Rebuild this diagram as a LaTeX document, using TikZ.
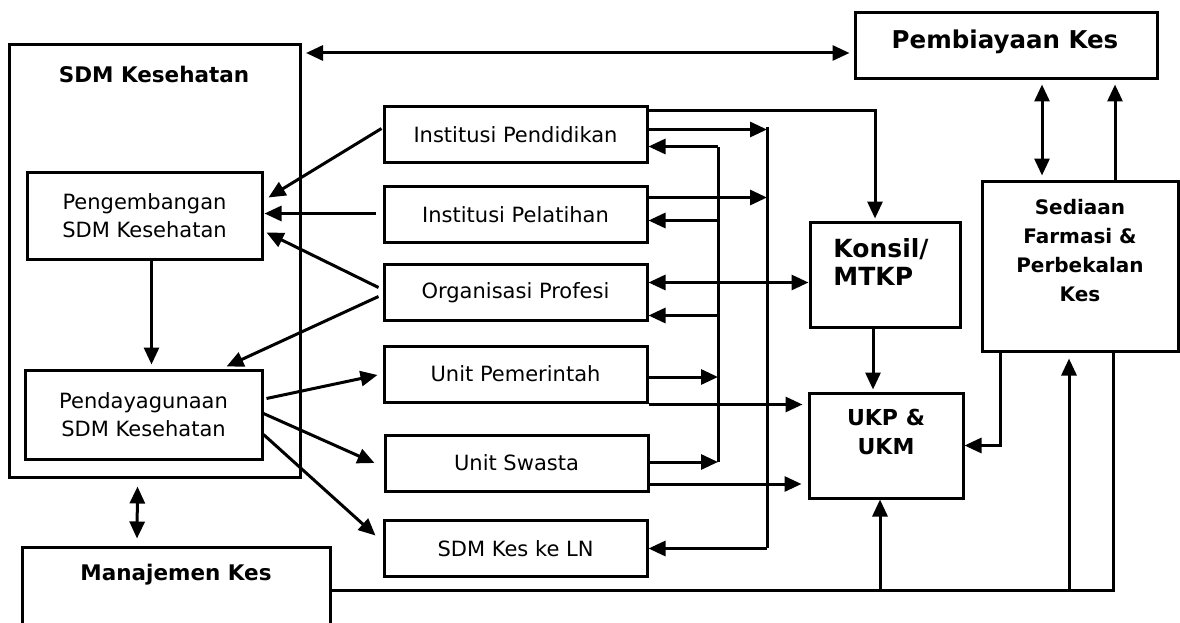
\documentclass[tikz,border=0pt]{standalone}
\usepackage{fontspec}
\setmainfont{DejaVu Sans}
\usetikzlibrary{positioning,arrows.meta,calc}

\begin{document}
\begin{tikzpicture}[x=1pt,y=-1pt,line width=3pt,
  box/.style={draw,line width=3pt,inner sep=0pt},
  unit/.style={box,minimum width=263pt,minimum height=56pt,font=\fontsize{21}{28}\selectfont},
  head/.style={font=\bfseries\fontsize{21}{29}\selectfont,align=center},
  arr/.style={-{Triangle[length=17pt,width=15pt]}},
  dbl/.style={{Triangle[length=17pt,width=15pt]}-{Triangle[length=17pt,width=15pt]}}]
        \clip (0,0) rectangle (1180,623);
        \fill[white] (0,0) rectangle (1180,623);
        \node[box, minimum width=291pt, minimum height=432pt] (sdm) at (154.5,261) {};
        \node[head, font=\bfseries\fontsize{21.5}{29}\selectfont] (sdmtitle) at (154,74) {SDM Kesehatan};
        \node[box, minimum width=235pt, minimum height=87pt, align=center,
              font=\fontsize{21}{28}\selectfont] (peng) at (144.5,215.5) {Pengembangan\\SDM Kesehatan};
        \node[box, minimum width=237pt, minimum height=89pt, align=center,
              font=\fontsize{21}{28}\selectfont] (pend) at (143.5,414.5) {Pendayagunaan\\SDM Kesehatan};
        \node[box, minimum width=308pt, minimum height=93pt] (mgmt) at (176,593.5) {};
        \node[head, font=\bfseries\fontsize{21.5}{29}\selectfont] (mgmttxt) at (176,575) {Manajemen Kes};
        \node[unit] (ipend) at (515.5,134.5) {Institusi Pendidikan};
        \node[unit] (ilat) at (515.5,214.5) {Institusi Pelatihan};
        \node[unit] (orgp) at (515.5,292.5) {Organisasi Profesi};
        \node[unit] (upem) at (515.5,374) {Unit Pemerintah};
        \node[unit] (uswa) at (516.5,463) {Unit Swasta};
        \node[unit] (sdmln) at (515.5,548.5) {SDM Kes ke LN};
        \node[box, minimum width=150pt, minimum height=105pt] (konsil) at (885,274.5) {};
        \node[head, align=left, font=\bfseries\fontsize{25}{28}\selectfont] (konsiltxt) at (881,262) {Konsil/\\MTKP};
        \node[box, minimum width=154pt, minimum height=105pt] (ukp) at (886,445.5) {};
        \node[head, font=\bfseries\fontsize{22}{29}\selectfont] (ukptxt) at (886,432) {UKP \&\\UKM};
        \node[box, minimum width=302pt, minimum height=66pt] (biaya) at (1006,46) {};
        \node[head, font=\bfseries\fontsize{24.5}{29}\selectfont] (biayatxt) at (1005,42) {Pembiayaan Kes};
        \node[box, minimum width=196pt, minimum height=170pt] (sediaan) at (1080,266) {};
        \node[head, font=\bfseries\fontsize{20}{29}\selectfont] (sediaantxt) at (1080,251) {Sediaan\\Farmasi \&\\Perbekalan\\Kes};
        \coordinate (busL) at (718,147);
        \coordinate (busLb) at (718,462);
        \coordinate (busR) at (767,127);
        \coordinate (busRb) at (767,548);
        \coordinate (topl) at (306,53);
        \draw (busL) -- (busLb);
        \draw (busR) -- (busRb);
        \draw[dbl] (topl) -- ($(topl -| biaya.west)+(-4,0)$);
        \draw[dbl] ($(biaya.south)+(36,4)$) -- ($(sediaan.north)+(-38,-4)$);
        \draw[arr] ($(sediaan.north)+(35,0)$) -- ($(biaya.south)+(109,4)$);
        \draw[arr] ($(ipend.north east)+(0,6)$) -| ($(konsil.north)+(-10,-2)$);
        \draw[arr] ($(ipend.east)+(0,-5)$) -- ($(ipend.east -| busR)+(0,-5)$);
        \draw[arr] ($(ipend.east -| busL)+(0,12)$) -- ($(ipend.east)+(0,12)$);
        \draw[arr] ($(ilat.east)+(0,-17)$) -- ($(ilat.east -| busR)+(0,-17)$);
        \draw[arr] ($(ilat.east -| busL)+(0,6)$) -- ($(ilat.east)+(0,6)$);
        \draw[dbl] ($(orgp.east)+(0,-10)$) -- ($(orgp.east -| konsil.west)+(0,-10)$);
        \draw[arr] ($(orgp.east -| busL)+(0,23)$) -- ($(orgp.east)+(0,23)$);
        \draw[arr] ($(upem.east)+(0,3)$) -- ($(upem.east -| busL)+(0,3)$);
        \draw[arr] ($(upem.south east)+(0,1)$) -- ($(upem.south east -| ukp.west)+(-5,1)$);
        \draw[arr] ($(uswa.east)+(0,-1)$) -- ($(uswa.east -| busL)+(0,-1)$);
        \draw[arr] ($(uswa.east)+(0,21)$) -- ($(uswa.east -| ukp.west)+(-6,21)$);
        \draw[arr] (sdmln.east -| busR) -- (sdmln.east);
        \draw[arr] ($(konsil.south)+(-12,0)$) -- ($(ukp.north)+(-13,-2)$);
        \draw[arr] ($(sediaan.south west)+(20,0)$) |- (ukp.east);
        \coordinate (base) at ($(mgmt.east)+(0,-3.5)$);
        \draw (base) -| ($(sediaan.south)+(33,0)$);
        \draw[arr] ($(base -| ukp.south)+(-6,0)$) -- ($(ukp.south)+(-6,0)$);
        \draw[arr] ($(base -| sediaan.south)+(-11,0)$) -- ($(sediaan.south)+(-11,6)$);
        \draw[arr] ($(ipend.west)+(-1,-6)$) -- ($(peng.east)+(5,-18)$);
        \draw[arr] ($(ilat.west)+(-7,-1)$) -- ($(peng.east)+(1,-2)$);
        \draw[arr] ($(orgp.west)+(-4,-5)$) -- ($(peng.east)+(3,17)$);
        \draw[arr] ($(orgp.west)+(-4,4)$) -- ($(pend.north)+(83,-2)$);
        \draw[arr] ($(pend.east)+(3,-16)$) -- ($(upem.west)+(-5,1)$);
        \draw[arr] ($(pend.east)+(0,-1)$) -- ($(uswa.west)+(-9,0)$);
        \draw[arr] ($(pend.east)+(0,20)$) -- ($(sdmln.west)+(-7,-13)$);
        \draw[arr] ($(peng.south)+(7,0)$) -- ($(pend.north)+(8,-4)$);
        \draw[dbl] ($(sdm.south)+(-17,8)$) -- ($(mgmt.north)+(-39,-7)$);
      \end{tikzpicture}
\end{document}
